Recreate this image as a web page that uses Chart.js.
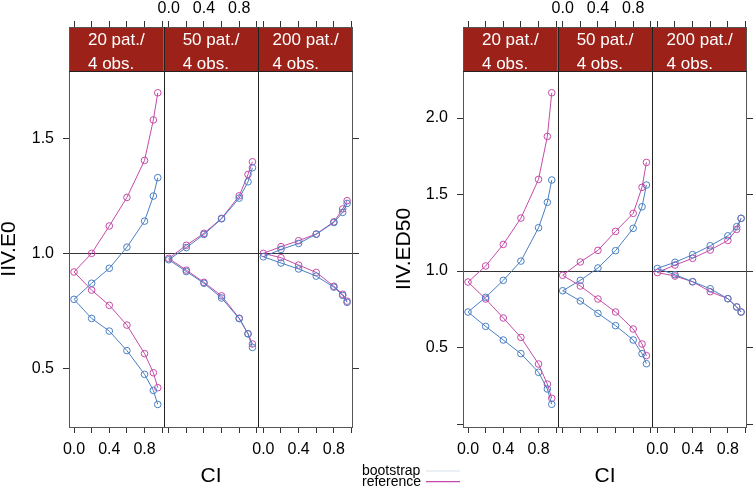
<!DOCTYPE html>
<html><head><meta charset="utf-8">
<script src="https://cdn.jsdelivr.net/npm/chart.js@4.4.1/dist/chart.umd.min.js"></script>
<style>
html,body{margin:0;padding:0;background:#fff;}
#wrap{position:relative;width:756px;height:490px;}
canvas{position:absolute;left:0;top:0;}
</style>
</head><body>
<div id="wrap"><canvas id="c1" width="756" height="490"></canvas><canvas id="c2" width="756" height="490"></canvas></div>
<script>
// ---------- data ----------
const ciLevels = [0, 0.2, 0.4, 0.6, 0.8, 0.9, 0.95];
const panelLabels = [["20 pat./", "4 obs."], ["50 pat./", "4 obs."], ["200 pat./", "4 obs."]];
const seriesNames = ["bootstrap", "reference"];
const xTickValues = [0, 0.2, 0.4, 0.6, 0.8, 1.0];
const xTickLabels = ["0.0", "", "0.4", "", "0.8", ""];
const e0YTicks = [0.5, 1.0, 1.5];
const e0YLabels = ["0.5", "1.0", "1.5"];
const ed50YTicks = [0, 0.5, 1.0, 1.5, 2.0];
const ed50YLabels = ["", "0.5", "1.0", "1.5", "2.0"];

// IIV.E0 : one row per panel (20, 50, 200 patients)
const e0BootUpper = [
  [0.800, 0.870, 0.935, 1.027, 1.140, 1.249, 1.329],
  [0.972, 1.025, 1.082, 1.150, 1.240, 1.311, 1.372],
  [0.985, 1.017, 1.043, 1.083, 1.134, 1.178, 1.217]];
const e0BootLower = [
  [0.800, 0.717, 0.662, 0.577, 0.474, 0.404, 0.343],
  [0.972, 0.921, 0.870, 0.806, 0.716, 0.650, 0.591],
  [0.985, 0.958, 0.932, 0.901, 0.853, 0.817, 0.787]];
const e0RefUpper = [
  [0.919, 1.000, 1.119, 1.243, 1.404, 1.580, 1.698],
  [0.978, 1.035, 1.087, 1.152, 1.250, 1.343, 1.398],
  [1.000, 1.029, 1.055, 1.084, 1.137, 1.193, 1.229]];
const e0RefLower = [
  [0.919, 0.840, 0.774, 0.688, 0.564, 0.481, 0.416],
  [0.978, 0.927, 0.874, 0.815, 0.718, 0.651, 0.606],
  [1.000, 0.981, 0.949, 0.917, 0.857, 0.822, 0.792]];

// IIV.ED50
const ed50BootUpper = [
  [0.732, 0.828, 0.939, 1.065, 1.283, 1.449, 1.595],
  [0.871, 0.939, 1.020, 1.133, 1.279, 1.420, 1.562],
  [1.017, 1.057, 1.107, 1.165, 1.230, 1.290, 1.344]];
const ed50BootLower = [
  [0.732, 0.638, 0.549, 0.460, 0.338, 0.229, 0.129],
  [0.871, 0.804, 0.723, 0.643, 0.549, 0.460, 0.394],
  [1.017, 0.976, 0.930, 0.884, 0.819, 0.765, 0.732]];
const ed50RefUpper = [
  [0.928, 1.033, 1.174, 1.346, 1.599, 1.880, 2.165],
  [0.972, 1.059, 1.135, 1.259, 1.377, 1.547, 1.710],
  [0.990, 1.039, 1.083, 1.137, 1.200, 1.272, 1.344]];
const ed50RefLower = [
  [0.928, 0.817, 0.693, 0.566, 0.392, 0.261, 0.168],
  [0.972, 0.902, 0.817, 0.732, 0.621, 0.523, 0.447],
  [0.990, 0.967, 0.930, 0.865, 0.819, 0.765, 0.732]];

// ---------- styling / layout ----------
const FONT = "'Liberation Sans', Arial, Helvetica, sans-serif";
const COL_BOOT = "#4a7fc1";
const COL_REF = "#c54aa8";
const STRIP_COL = "#9c2118";
const X_MIN = -0.057, X_MAX = 1.017, X_W = X_MAX - X_MIN;

function panelX(p, v) { return p * X_W + (v - X_MIN); }

function branchData(upper, lower) {
  const pts = [];
  for (let p = 0; p < 3; p++) {
    for (let i = ciLevels.length - 1; i >= 0; i--) pts.push({x: panelX(p, ciLevels[i]), y: upper[p][i]});
    for (let i = 1; i < ciLevels.length; i++) pts.push({x: panelX(p, ciLevels[i]), y: lower[p][i]});
    pts.push({x: panelX(p, 1.0), y: null});
  }
  return pts;
}

function xTicks(showPanels) {
  const vals = [], labs = [];
  for (let p = 0; p < 3; p++) {
    xTickValues.forEach((t, i) => { vals.push(panelX(p, t)); labs.push(showPanels.includes(p) ? xTickLabels[i] : ""); });
  }
  return {vals, labs};
}

function makePlot(id, cfg) {
  const bottom = xTicks([0, 2]);
  const top = xTicks([1]);
  const gridCfg = {display: true, drawOnChartArea: false, drawTicks: true, tickLength: 6, color: "#333", lineWidth: 1};
  const tickFont = {family: FONT, size: 16};
  const decor = {
    id: "decor" + id,
    beforeDatasetsDraw(chart) {
      const {ctx, chartArea: a} = chart;
      const yy = chart.scales.y.getPixelForValue(1.0);
      ctx.save();
      ctx.strokeStyle = "#333"; ctx.lineWidth = 1;
      ctx.beginPath(); ctx.moveTo(a.left, Math.round(yy) + 0.5); ctx.lineTo(a.right, Math.round(yy) + 0.5); ctx.stroke();
      ctx.restore();
    },
    afterDraw(chart) {
      const {ctx, chartArea: a} = chart;
      const pw = (a.right - a.left) / 3;
      const stripB = a.top + 44;
      ctx.save();
      // strips
      for (let p = 0; p < 3; p++) {
        const x0 = a.left + p * pw;
        ctx.fillStyle = STRIP_COL;
        ctx.fillRect(x0, a.top, pw, stripB - a.top);
        ctx.font = "17px " + FONT;
        ctx.fillStyle = "#fff";
        ctx.textBaseline = "alphabetic"; ctx.textAlign = "left";
        const w = Math.max(...panelLabels[p].map(s => ctx.measureText(s).width));
        const tx = x0 + (pw - w) / 2;
        ctx.fillText(panelLabels[p][0], tx, a.top + 17.5);
        ctx.fillText(panelLabels[p][1], tx, a.top + 41.5);
      }
      // frame
      ctx.strokeStyle = "#555"; ctx.lineWidth = 1;
      ctx.strokeRect(a.left + 0.5, a.top + 0.5, a.right - a.left - 1, a.bottom - a.top);
      ctx.strokeStyle = "#222";
      ctx.beginPath();
      ctx.moveTo(a.left, stripB + 0.5); ctx.lineTo(a.right, stripB + 0.5);
      for (let p = 1; p < 3; p++) {
        const xx = Math.round(a.left + p * pw) + 0.5;
        ctx.moveTo(xx, a.top); ctx.lineTo(xx, a.bottom);
      }
      ctx.stroke();
      // titles
      ctx.fillStyle = "#000";
      ctx.font = "21px " + FONT;
      ctx.textAlign = "center"; ctx.textBaseline = "middle";
      ctx.fillText("CI", (a.left + a.right) / 2, 476);
      ctx.save();
      ctx.translate(cfg.yTitleX, (stripB + a.bottom) / 2);
      ctx.rotate(-Math.PI / 2);
      ctx.fillText(cfg.yTitle, 0, 0);
      ctx.restore();
      // legend
      if (cfg.legend) {
        ctx.font = "14px " + FONT;
        ctx.textAlign = "left"; ctx.textBaseline = "middle";
        const legCols = ["#d5e1ec", COL_REF];
        seriesNames.forEach((n, i) => {
          const ly = 471 + i * 10.7;
          ctx.fillStyle = "#000";
          ctx.fillText(n, 362, ly);
          ctx.strokeStyle = legCols[i]; ctx.lineWidth = 1.2;
          ctx.beginPath(); ctx.moveTo(426, ly); ctx.lineTo(460, ly); ctx.stroke();
        });
      }
      ctx.restore();
    }
  };
  const ds = (name, col, up, lo) => ({
    label: name, data: branchData(up, lo), borderColor: col, borderWidth: 1,
    pointRadius: 3.3, pointBorderWidth: 1, pointBackgroundColor: "rgba(0,0,0,0)", pointBorderColor: col,
    showLine: true, spanGaps: false, fill: false, tension: 0, xAxisID: "x", yAxisID: "y"
  });
  return new Chart(document.getElementById(id), {
    type: "line",
    data: {datasets: [
      ds(seriesNames[0], COL_BOOT, cfg.bootU, cfg.bootL),
      ds(seriesNames[1], COL_REF, cfg.refU, cfg.refL)]},
    options: {
      responsive: false, animation: false, devicePixelRatio: 1,
      layout: {padding: cfg.padding},
      plugins: {legend: {display: false}, tooltip: {enabled: false}},
      events: [],
      scales: {
        x: {type: "linear", position: "bottom", min: 0, max: 3 * X_W,
          afterBuildTicks: s => { s.ticks = bottom.vals.map(v => ({value: v})); },
          afterFit: s => { s.height = 63; },
          ticks: {autoSkip: false, maxRotation: 0, minRotation: 0, padding: 7, color: "#000", font: tickFont,
            callback: (v, i) => bottom.labs[i]},
          grid: gridCfg, border: {display: false}},
        xTop: {type: "linear", position: "top", min: 0, max: 3 * X_W,
          afterBuildTicks: s => { s.ticks = top.vals.map(v => ({value: v})); },
          afterFit: s => { s.height = 27; },
          ticks: {autoSkip: false, maxRotation: 0, minRotation: 0, padding: 3, color: "#000", font: tickFont,
            callback: (v, i) => top.labs[i]},
          grid: gridCfg, border: {display: false}},
        y: {type: "linear", position: "left", min: cfg.yMin, max: cfg.yMax,
          afterBuildTicks: s => { s.ticks = cfg.yTicks.map(v => ({value: v})); },
          afterFit: s => { s.width = cfg.yLeftW; },
          ticks: {autoSkip: false, padding: 9, color: "#000", font: tickFont, callback: (v, i) => cfg.yLabels[i]},
          grid: gridCfg, border: {display: false}},
        yRight: {type: "linear", position: "right", min: cfg.yMin, max: cfg.yMax,
          afterBuildTicks: s => { s.ticks = cfg.yTicks.map(v => ({value: v})); },
          afterFit: s => { s.width = 9; },
          ticks: {autoSkip: false, padding: 0, font: tickFont, callback: () => ""},
          grid: gridCfg, border: {display: false}}
      }
    },
    plugins: [decor]
  });
}

makePlot("c1", {
  bootU: e0BootUpper, bootL: e0BootLower, refU: e0RefUpper, refL: e0RefLower,
  yMin: 0.245, yMax: 1.984, yTicks: e0YTicks, yLabels: e0YLabels,
  yLeftW: 69, padding: {left: 0, right: 756 - 353 - 9, top: 0, bottom: 0},
  yTitle: "IIV.E0", yTitleX: 9.5, legend: false
});
makePlot("c2", {
  bootU: ed50BootUpper, bootL: ed50BootLower, refU: ed50RefUpper, refL: ed50RefLower,
  yMin: -0.0196, yMax: 2.595, yTicks: ed50YTicks, yLabels: ed50YLabels,
  yLeftW: 85, padding: {left: 378, right: 0, top: 0, bottom: 0},
  yTitle: "IIV.ED50", yTitleX: 404, legend: true
});
</script>
</body></html>
